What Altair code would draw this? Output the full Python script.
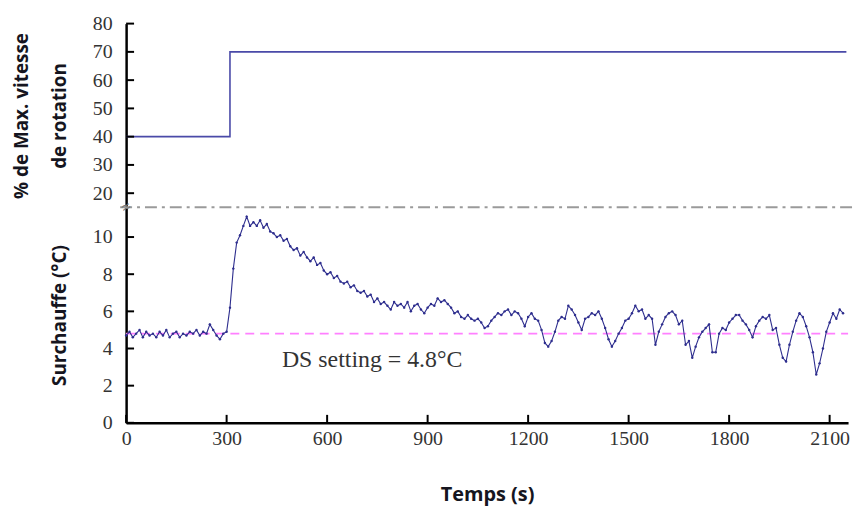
import altair as alt
import pandas as pd

# ---- data ----
speed_t = [0, 310, 2150]
speed_v = [40, 70, 70]

sh_step = 10
superheat = [
    4.7, 4.9, 4.6, 4.8, 5.0, 4.6, 4.9, 4.7, 4.8, 4.6,
    4.9, 4.7, 5.0, 4.6, 4.8, 4.9, 4.6, 4.8, 4.7, 4.9,
    4.8, 5.0, 4.7, 4.9, 4.8, 5.3, 5.0, 4.7, 4.5, 4.8,
    4.9, 6.2, 8.3, 9.7, 10.1, 10.6, 11.1, 10.6, 10.8, 10.6,
    10.9, 10.5, 10.7, 10.3, 10.2, 10.0, 10.1, 9.8, 9.9, 9.5,
    9.3, 9.4, 9.0, 9.2, 8.9, 8.7, 8.9, 8.5, 8.6, 8.2,
    8.0, 8.1, 7.8, 7.9, 7.6, 7.5, 7.6, 7.3, 7.4, 7.1,
    7.0, 7.1, 6.8, 6.9, 6.5, 6.7, 6.4, 6.5, 6.3, 6.1,
    6.5, 6.3, 6.4, 6.2, 6.5, 6.0, 6.3, 6.4, 6.1, 5.9,
    6.2, 6.4, 6.3, 6.7, 6.5, 6.6, 6.4, 6.2, 5.9, 6.0,
    5.7, 5.6, 5.8, 5.6, 5.5, 5.6, 5.4, 5.1, 5.2, 5.5,
    5.7, 5.9, 5.8, 6.0, 6.1, 5.8, 6.0, 5.9, 5.6, 5.2,
    5.7, 5.9, 5.6, 5.5, 5.0, 4.3, 4.1, 4.4, 4.9, 5.5,
    5.7, 5.6, 6.3, 6.1, 5.8, 5.4, 5.0, 5.6, 5.7, 5.9,
    5.8, 6.0, 5.6, 5.1, 4.5, 4.1, 4.4, 4.8, 5.1, 5.5,
    5.6, 5.9, 6.3, 6.0, 6.1, 5.6, 5.8, 5.6, 4.2, 4.9,
    5.3, 5.7, 5.9, 6.0, 5.8, 5.3, 5.5, 4.2, 4.4, 3.5,
    4.1, 4.6, 4.9, 5.1, 5.3, 3.8, 3.8, 4.8, 5.1, 5.0,
    5.4, 5.6, 5.8, 5.8, 5.5, 5.3, 5.0, 4.6, 5.2, 5.5,
    5.7, 5.6, 5.8, 5.0, 5.1, 4.2, 3.5, 3.3, 4.2, 4.9,
    5.5, 5.9, 5.7, 5.2, 4.6, 3.8, 2.6, 3.2, 4.0, 4.9,
    5.4, 5.9, 5.6, 6.1, 5.9,
]
sh_t = [i * sh_step for i in range(len(superheat))]

ds_setting = 4.8
ds_label = "DS setting = 4.8°C"

x_ticks = [0, 300, 600, 900, 1200, 1500, 1800, 2100]
top_ticks = [20, 30, 40, 50, 60, 70, 80]
bot_ticks = [0, 2, 4, 6, 8, 10]

X_DOMAIN = [0, 2155]
TOP_DOMAIN = [15, 80]
BOT_DOMAIN = [0, 11.6]

W = 727
H_TOP = 185
H_BOT = 217

LINE_COLOR = "#2e2e8e"
TICK_FONT = "Liberation Serif"
TITLE_FONT = "Open Sans"

speed_df = pd.DataFrame({"t": speed_t, "v": speed_v})
sh_df = pd.DataFrame({"t": sh_t, "v": superheat})
xt_df = pd.DataFrame({"t": x_ticks})
tt_df = pd.DataFrame({"v": top_ticks})
bt_df = pd.DataFrame({"v": bot_ticks})

xs = alt.Scale(domain=X_DOMAIN, nice=False, zero=False)
ys_top = alt.Scale(domain=TOP_DOMAIN, nice=False, zero=False)
ys_bot = alt.Scale(domain=BOT_DOMAIN, nice=False, zero=False)

x_axis = alt.Axis(values=x_ticks, format="d", labelOverlap=False,
                  title="Temps (s)", titlePadding=36, labelPadding=6)
top_axis = alt.Axis(values=top_ticks, format="d", labelOverlap=False,
                    title=["% de  Max. vitesse", "de rotation"],
                    titleLineHeight=38, titlePadding=23)
bot_axis = alt.Axis(values=bot_ticks, format="d", labelOverlap=False,
                    title="Surchauffe  (°C)", titlePadding=23)

X_TOP = alt.X("t:Q", scale=xs, axis=None)
X_BOT = alt.X("t:Q", scale=xs, axis=x_axis)
Y_TOP = alt.Y("v:Q", scale=ys_top, axis=top_axis)
Y_BOT = alt.Y("v:Q", scale=ys_bot, axis=bot_axis)

# ---- top panel ----
speed_line = alt.Chart(speed_df).mark_line(
    interpolate="step-after", color="#4a4aa8", strokeWidth=1.6
).encode(x=X_TOP, y=Y_TOP)

top_tick_marks = alt.Chart(tt_df).mark_rule(color="black", strokeWidth=2).encode(
    y=Y_TOP, x=alt.value(0), x2=alt.value(8)
)
top = alt.layer(speed_line, top_tick_marks).properties(width=W, height=H_TOP)

# ---- bottom panel ----
ds_rule = alt.Chart(pd.DataFrame({"v": [ds_setting]})).mark_rule(
    color="#ff80ff", strokeDash=[9, 6], strokeWidth=1.6
).encode(y=Y_BOT, x=alt.value(0), x2=alt.value(W))

break_rule = alt.Chart(pd.DataFrame({"v": [BOT_DOMAIN[1]]})).mark_rule(
    color="#9a9a9a", strokeDash=[12, 5, 3, 5], strokeWidth=2
).encode(y=Y_BOT, x=alt.value(-6), x2=alt.value(W + 8))

break_sym = alt.Chart(pd.DataFrame({"v": [BOT_DOMAIN[1]]})).mark_text(
    text="≈", fontSize=16, color="#777", angle=330
).encode(y=Y_BOT, x=alt.value(0))

curve = alt.Chart(sh_df).mark_line(
    color=LINE_COLOR, strokeWidth=1.1,
    point=alt.OverlayMarkDef(filled=True, size=6, color=LINE_COLOR),
).encode(x=X_BOT, y=Y_BOT)

ds_text = alt.Chart(pd.DataFrame({"t": [465], "v": [3.4], "s": [ds_label]})).mark_text(
    align="left", baseline="middle", font=TICK_FONT, fontSize=24, color="#333"
).encode(x=X_BOT, y=Y_BOT, text="s:N")

x_tick_marks = alt.Chart(xt_df).mark_rule(color="black", strokeWidth=2).encode(
    x=X_BOT, y=alt.value(H_BOT), y2=alt.value(H_BOT - 8)
)
bot_tick_marks = alt.Chart(bt_df).mark_rule(color="black", strokeWidth=2).encode(
    y=Y_BOT, x=alt.value(0), x2=alt.value(8)
)

bottom = alt.layer(
    ds_rule, curve, ds_text, x_tick_marks, bot_tick_marks, break_rule, break_sym
).properties(width=W, height=H_BOT)

chart = (
    alt.vconcat(top, bottom, spacing=0, bounds="flush")
    .properties(padding={"left": 13, "top": 12, "right": 0, "bottom": 0})
    .configure_view(stroke=None)
    .configure_axis(
        domainColor="black",
        domainWidth=2.5,
        tickSize=0,
        grid=False,
        labelFont=TICK_FONT,
        labelFontSize=20,
        labelColor="#333",
        labelPadding=14,
        labelOverlap=False,
        labelFlush=False,
        titleFont=TITLE_FONT,
        titleFontSize=19,
        titleFontWeight="bold",
        titleColor="#151520",
    )
    .configure_axisX(titleFontSize=20, labelPadding=6)
)

chart.save("out.html", embed_options={"renderer": "svg", "actions": False})
